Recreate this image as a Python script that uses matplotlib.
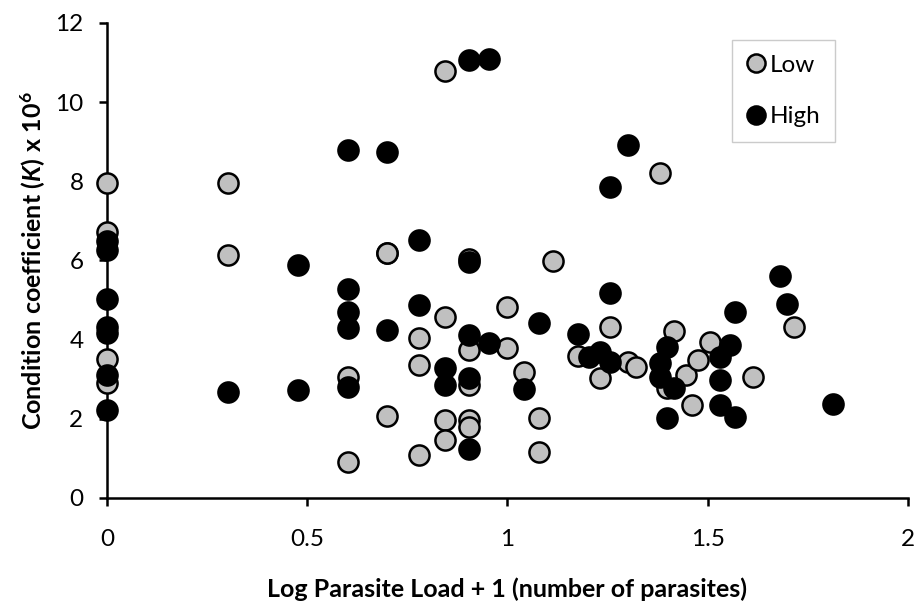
import matplotlib.pyplot as plt

## Data
# Low intensity group (grey)
low_x = [0, 0, 0, 0, 0.301, 0.301, 0.602, 0.602, 0.699, 0.699, 0.699, 0.778, 0.778, 0.778,
         0.845, 0.845, 0.845, 0.845, 0.903, 0.903, 0.903, 0.903, 0.903, 1.0, 1.0,
         1.041, 1.079, 1.079, 1.114, 1.176, 1.23, 1.255, 1.301, 1.322, 1.38, 1.398,
         1.415, 1.447, 1.462, 1.477, 1.505, 1.613, 1.716]
low_y = [7.95, 6.72, 3.51, 2.9, 7.95, 6.13, 3.06, 0.91, 6.19, 2.07, 6.19, 4.04, 3.36, 1.09,
         10.78, 4.57, 1.97, 1.47, 6.03, 3.74, 2.85, 1.97, 1.79, 4.82, 3.79,
         3.18, 2.02, 1.16, 5.98, 3.58, 3.03, 4.32, 3.43, 3.31, 8.2, 2.78,
         4.22, 3.1, 2.35, 3.48, 3.94, 3.06, 4.32]

# High intensity group (black)
high_x = [0, 0, 0, 0, 0, 0, 0, 0.301, 0.477, 0.477, 0.602, 0.602, 0.602, 0.602, 0.602,
          0.699, 0.699, 0.778, 0.778, 0.845, 0.845, 0.903, 0.903, 0.903, 0.903, 0.903,
          0.954, 0.954, 1.041, 1.079, 1.176, 1.204, 1.23, 1.255, 1.255, 1.255, 1.301,
          1.38, 1.38, 1.398, 1.398, 1.415, 1.531, 1.531, 1.531, 1.556, 1.568, 1.568,
          1.681, 1.699, 1.813]
high_y = [6.5, 6.26, 5.02, 4.32, 4.17, 3.1, 2.22, 2.69, 5.88, 2.73, 8.78, 5.28, 4.7, 4.29, 2.8,
          8.74, 4.24, 6.52, 4.87, 3.28, 2.85, 11.06, 5.95, 4.12, 3.03, 1.24,
          11.1, 3.91, 2.75, 4.42, 4.14, 3.56, 3.7, 7.86, 5.17, 3.43, 8.92,
          3.41, 3.06, 3.81, 2.02, 2.78, 3.56, 2.98, 2.35, 3.86, 4.69, 2.05,
          5.6, 4.9, 2.37]

plt.rcParams['font.family'] = ['Lato', 'DejaVu Sans']
plt.rcParams['mathtext.fontset'] = 'custom'
plt.rcParams['mathtext.rm'] = 'Lato'
plt.rcParams['mathtext.bf'] = 'Lato:bold'
plt.rcParams['mathtext.it'] = 'Lato:italic'
plt.rcParams['mathtext.bfit'] = 'Lato:bold:italic'

fig = plt.figure(figsize=(9.18, 6.04), dpi=100)
ax = fig.add_axes([0.1166, 0.1755, 0.8724, 0.7865])

ax.scatter(low_x, low_y, s=210, c='#c0c0c0', edgecolors='black', linewidths=1.8,
           label='Low', zorder=3, clip_on=False)
ax.scatter(high_x, high_y, s=210, c='black', edgecolors='black', linewidths=1.8,
           label='High', zorder=3, clip_on=False)

ax.set_xlim(0, 2)
ax.set_ylim(0, 12)
ax.set_xticks([0, 0.5, 1, 1.5, 2])
ax.set_xticklabels(['0', '0.5', '1', '1.5', '2'])
ax.set_yticks([0, 2, 4, 6, 8, 10, 12])

for side in ['top', 'right']:
    ax.spines[side].set_visible(False)
for side in ['left', 'bottom']:
    ax.spines[side].set_linewidth(1.8)
ax.tick_params(axis='both', direction='out', length=6, width=1.8, labelsize=17.5)
ax.tick_params(axis='x', pad=16)
ax.tick_params(axis='y', pad=11)

ax.set_xlabel('Log Parasite Load + 1 (number of parasites)', fontsize=18,
              fontweight='bold')
ax.set_ylabel(r'$\mathbf{Condition\ coefficient\ (}\mathbfit{K}\mathbf{)\ x\ 10^{6}}$',
              fontsize=18)
ax.xaxis.set_label_coords(0.5, -0.168)
ax.yaxis.set_label_coords(-0.074, 0.5)

leg = ax.legend(loc='upper right', bbox_to_anchor=(0.909, 0.964), fontsize=17.5,
                frameon=True, fancybox=False, edgecolor='#bfbfbf', handletextpad=0.15,
                handlelength=0.8, labelspacing=1.25, borderpad=0.6, borderaxespad=0,
                markerscale=0.9, scatteryoffsets=[0.5])
leg.get_frame().set_linewidth(1.0)

plt.savefig('out.png', dpi=100)
